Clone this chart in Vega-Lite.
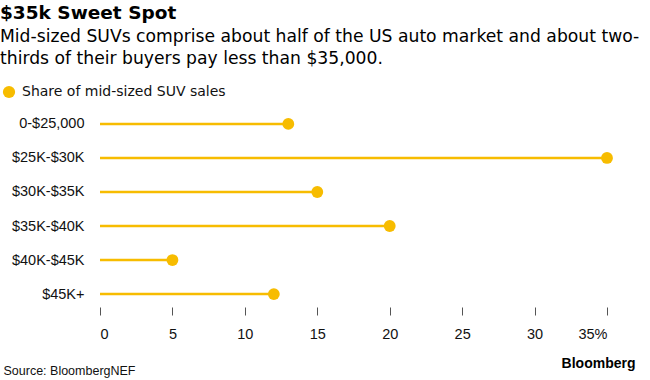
{
  "$schema": "https://vega.github.io/schema/vega-lite/v6.json",
  "width": 507,
  "height": 196,
  "autosize": {"type": "none"},
  "padding": {"left": 100, "top": 111, "right": 43, "bottom": 73},
  "background": "white",
  "config": {
    "font": "Liberation Sans",
    "view": {"stroke": null}
  },
  "title": {
    "text": "$35k Sweet Spot",
    "subtitle": ["Mid-sized SUVs comprise about half of the US auto market and about two-", "thirds of their buyers pay less than $35,000."],
    "anchor": "start",
    "frame": "group",
    "dx": -100,
    "offset": 18,
    "font": "DejaVu Sans",
    "fontSize": 18.5,
    "fontWeight": "bold",
    "color": "#000000",
    "subtitleFont": "DejaVu Sans",
    "subtitleFontSize": 17.2,
    "subtitleColor": "#000000",
    "subtitleLineHeight": 21.5,
    "subtitlePadding": 6
  },
  "data": {
    "values": [
      {"range": "0-$25,000", "share": 13, "zero": 0},
      {"range": "$25K-$30K", "share": 35, "zero": 0},
      {"range": "$30K-$35K", "share": 15, "zero": 0},
      {"range": "$35K-$40K", "share": 20, "zero": 0},
      {"range": "$40K-$45K", "share": 5, "zero": 0},
      {"range": "$45K+", "share": 12, "zero": 0}
    ]
  },
  "resolve": {"axis": {"x": "independent"}},
  "layer": [
    {
      "mark": {"type": "rule", "color": "#F7BC00", "strokeWidth": 2.5},
      "encoding": {
        "y": {
          "field": "range", "type": "nominal", "sort": null,
          "scale": {"type": "point", "padding": 0.38},
          "axis": {"title": null, "ticks": false, "domain": false, "labelFontSize": 14.5, "labelColor": "#111111", "labelPadding": 16, "grid": false}
        },
        "x": {
          "field": "zero", "type": "quantitative",
          "scale": {"domain": [0, 35], "nice": false},
          "axis": {
            "orient": "bottom",
            "values": [0, 5, 10, 15, 20, 25, 30, 35],
            "labelExpr": "datum.value == 35 ? '35%' : datum.label",
            "grid": false, "domain": false,
            "tickColor": "#555555", "tickSize": 8, "tickWidth": 1,
            "labelFontSize": 14.5, "labelColor": "#111111", "labelPadding": 12,
            "title": "Source: BloombergNEF",
            "titleFontSize": 12.5, "titleFontWeight": "normal", "titleColor": "#111111",
            "titleX": -97, "titleY": 63, "titleAlign": "left", "titleBaseline": "middle", "titleAnchor": "start"
          }
        },
        "x2": {"field": "share"}
      }
    },
    {
      "mark": {"type": "point", "filled": true, "opacity": 1, "size": 140},
      "encoding": {
        "y": {"field": "range", "type": "nominal", "sort": null},
        "x": {
          "field": "share", "type": "quantitative",
          "axis": {
            "orient": "top", "labels": false, "ticks": false, "domain": false, "grid": false,
            "title": "Bloomberg",
            "titleFontSize": 14, "titleFontWeight": "bold", "titleColor": "#000000",
            "titleX": 535, "titleY": 252, "titleAlign": "right", "titleBaseline": "middle", "titleAnchor": "end"
          }
        },
        "color": {
          "datum": "Share of mid-sized SUV sales",
          "type": "nominal",
          "scale": {"range": ["#F7BC00"]},
          "legend": {
            "title": null, "orient": "none", "legendX": -98, "legendY": -26,
            "symbolType": "circle", "symbolSize": 150, "symbolOpacity": 1,
            "labelFont": "DejaVu Sans", "labelFontSize": 14, "labelColor": "#111111", "labelOffset": 6, "labelLimit": 400
          }
        }
      }
    }
  ]
}
